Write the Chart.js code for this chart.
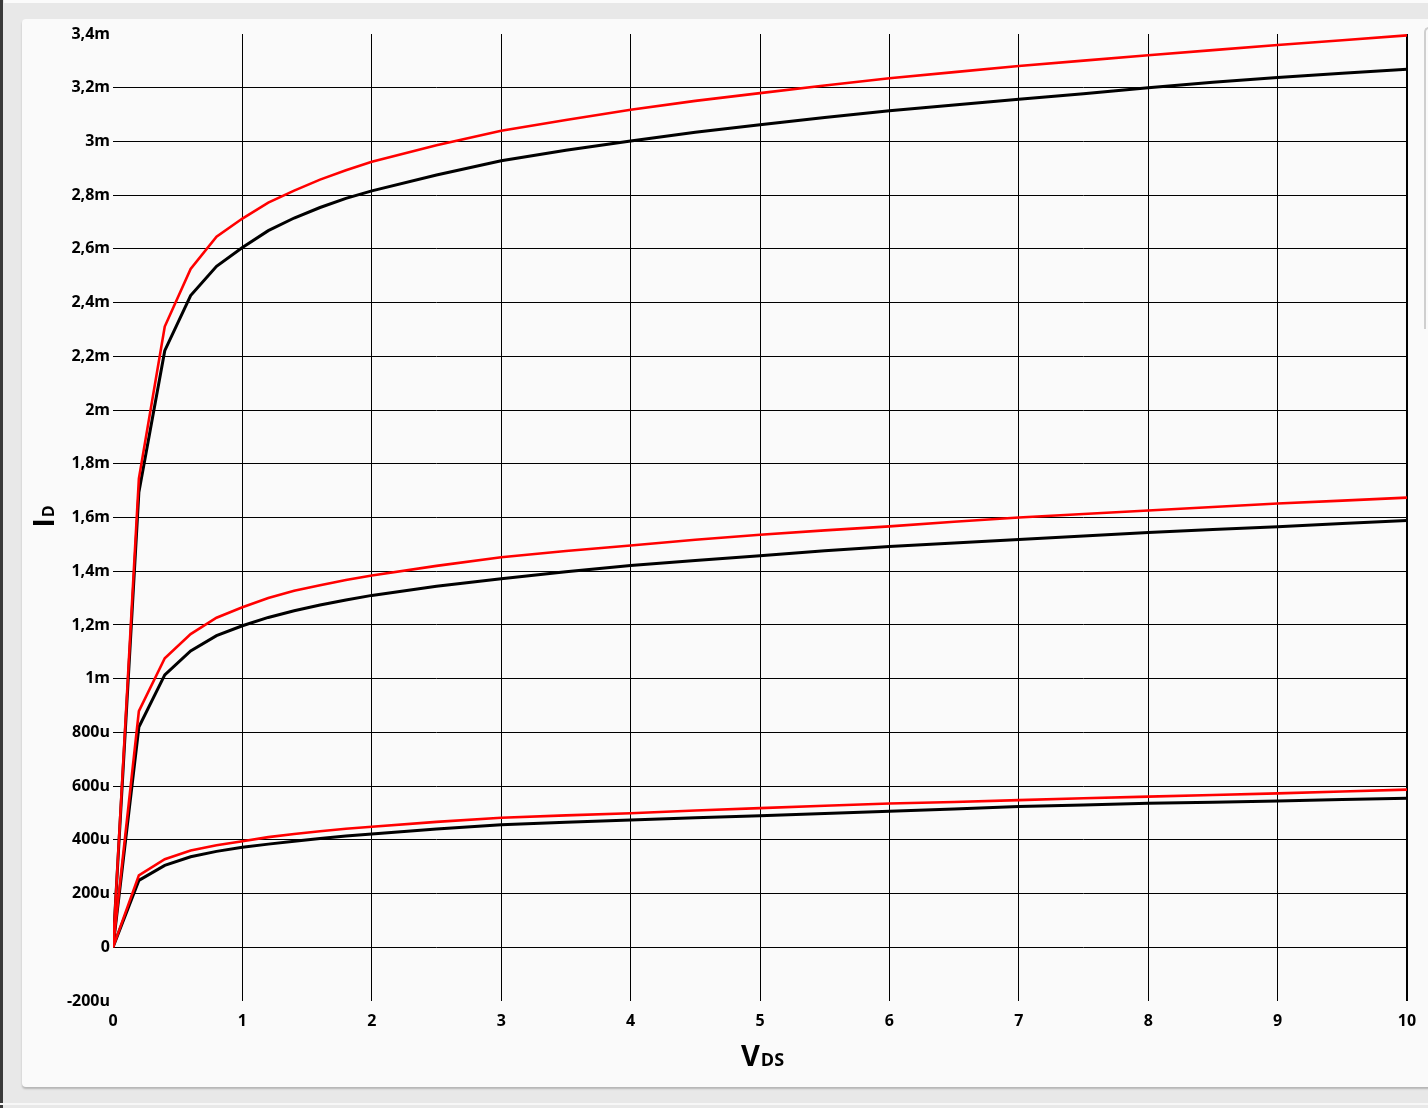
<!DOCTYPE html>
<html>
<head>
<meta charset="utf-8">
<script src="https://cdn.jsdelivr.net/npm/chart.js@4/dist/chart.umd.min.js"></script>
<style>
  html, body { margin:0; padding:0; width:1428px; height:1108px; overflow:hidden; background:#e8e8e8; }
  #topline { position:absolute; left:4px; top:0; width:1424px; height:3px; background:#fbfbfb; }
  #leftedge { position:absolute; left:0; top:0; width:3px; height:1108px; background:#3a3a3a; }
  #panel { position:absolute; left:22px; top:19px; width:1440px; height:1068px; background:#fafafa;
           border-radius:4px; box-shadow:0 2px 2px rgba(0,0,0,0.22); }
  #rightbar { position:absolute; left:1424px; top:27px; width:20px; height:300px; background:#fafafa;
              border-left:2px solid #cfcfcf; border-top:2px solid #cfcfcf; border-radius:5px 0 0 0; }
  #bottomline { position:absolute; left:0; top:1103px; width:1428px; height:2px; background:#f7f7f7; }
  canvas { position:absolute; left:0; top:0; }
</style>
</head>
<body>
<div id="topline"></div>
<div id="leftedge"></div>
<div id="panel"></div>
<div id="rightbar"></div>
<div id="bottomline"></div>
<canvas id="c" width="1428" height="1108"></canvas>
<script>
// V_DS sample points (V)
const vds = [0,0.2,0.4,0.6,0.8,1.0,1.2,1.4,1.6,1.8,2.0,2.5,3.0,3.5,4.0,4.5,5.0,5.5,6.0,6.5,7.0,7.5,8.0,8.5,9.0,9.5,10];

// I_D values in mA
const topBlack = [0,1.694,2.221,2.426,2.535,2.605,2.668,2.715,2.754,2.788,2.816,2.875,2.928,2.967,3.002,3.034,3.062,3.089,3.114,3.136,3.157,3.178,3.200,3.220,3.238,3.254,3.269];
const topRed   = [0,1.745,2.311,2.525,2.645,2.713,2.772,2.817,2.858,2.893,2.924,2.986,3.040,3.080,3.118,3.151,3.180,3.208,3.235,3.258,3.281,3.301,3.321,3.340,3.359,3.377,3.395];
const midBlack = [0,0.820,1.014,1.103,1.160,1.197,1.228,1.253,1.274,1.293,1.310,1.344,1.372,1.398,1.421,1.440,1.458,1.476,1.492,1.505,1.518,1.531,1.544,1.555,1.566,1.578,1.589];
const midRed   = [0,0.879,1.076,1.166,1.227,1.266,1.300,1.327,1.348,1.367,1.384,1.420,1.452,1.475,1.496,1.517,1.536,1.552,1.567,1.584,1.600,1.613,1.626,1.639,1.652,1.663,1.674];
const lowBlack = [0,0.249,0.305,0.337,0.357,0.372,0.384,0.395,0.405,0.414,0.422,0.440,0.456,0.465,0.474,0.482,0.490,0.498,0.506,0.515,0.524,0.530,0.536,0.540,0.545,0.550,0.555];
const lowRed   = [0,0.268,0.328,0.360,0.380,0.395,0.410,0.422,0.432,0.441,0.449,0.467,0.482,0.491,0.499,0.509,0.518,0.527,0.535,0.541,0.548,0.555,0.561,0.567,0.573,0.580,0.587];

// axis ticks
const yTickValues = [-0.2,0,0.2,0.4,0.6,0.8,1.0,1.2,1.4,1.6,1.8,2.0,2.2,2.4,2.6,2.8,3.0,3.2,3.4];
const yTickLabels = ["-200u","0","200u","400u","600u","800u","1m","1,2m","1,4m","1,6m","1,8m","2m","2,2m","2,4m","2,6m","2,8m","3m","3,2m","3,4m"];
const xTickValues = [0,1,2,3,4,5,6,7,8,9,10];
const xTickLabels = ["0","1","2","3","4","5","6","7","8","9","10"];

const FONT = '"Open Sans", "DejaVu Sans", sans-serif';

function pts(arr) { return vds.map((v, i) => ({ x: v, y: arr[i] })); }
function ds(arr, color, w) {
  return { data: pts(arr), borderColor: color, backgroundColor: color, borderWidth: w,
           pointRadius: 0, tension: 0, fill: false };
}

const titlePlugin = {
  id: 'titles',
  afterDraw(chart) {
    const ctx = chart.ctx;
    const area = chart.chartArea;
    ctx.save();
    ctx.fillStyle = '#000';
    ctx.textBaseline = 'alphabetic';
    ctx.textAlign = 'left';
    // V_DS
    const bigX = 'bold 29px ' + FONT, smallX = 'bold 18px ' + FONT;
    ctx.font = bigX; const wV = ctx.measureText('V').width;
    ctx.font = smallX; const wDS = ctx.measureText('DS').width;
    const cx = (area.left + area.right) / 2 + 2;
    let x0 = cx - (wV + wDS) / 2;
    ctx.font = bigX; ctx.fillText('V', x0, 1066);
    ctx.font = smallX; ctx.fillText('DS', x0 + wV + 1, 1066);
    // I_D
    const bigY = 'bold 28px ' + FONT, smallY = 'bold 16px ' + FONT;
    ctx.font = bigY; const wI = ctx.measureText('I').width;
    ctx.font = smallY; const wD = ctx.measureText('D').width;
    ctx.translate(54, 516.5);
    ctx.rotate(-Math.PI / 2);
    const y0 = -(wI + wD + 1) / 2;
    ctx.font = bigY; ctx.fillText('I', y0, 0);
    ctx.font = smallY; ctx.fillText('D', y0 + wI + 1, 0);
    ctx.restore();
  }
};

new Chart(document.getElementById('c'), {
  type: 'line',
  data: {
    datasets: [
      ds(topRed, '#ff0000', 2.6),
      ds(midRed, '#ff0000', 2.6),
      ds(lowRed, '#ff0000', 2.6),
      ds(topBlack, '#000000', 3),
      ds(midBlack, '#000000', 3),
      ds(lowBlack, '#000000', 3)
    ]
  },
  options: {
    responsive: false,
    animation: false,
    devicePixelRatio: 1,
    layout: { padding: { left: 0, top: 34, right: 21, bottom: 0 } },
    plugins: { legend: { display: false }, tooltip: { enabled: false }, title: { display: false } },
    scales: {
      x: {
        type: 'linear', min: 0, max: 10,
        border: { display: false },
        grid: {
          drawTicks: false,
          color: (c) => (c.tick && c.tick.value === 0) ? 'rgba(0,0,0,0)' : '#000',
          lineWidth: (c) => (c.tick && c.tick.value === 10) ? 2 : 1
        },
        afterBuildTicks: (s) => { s.ticks = xTickValues.map(v => ({ value: v })); },
        afterFit: (s) => { s.height = 107; },
        ticks: {
          padding: 11, color: '#000', maxRotation: 0, autoSkip: false,
          font: { family: FONT, size: 16, weight: 'bold' },
          callback: (v, i) => xTickLabels[i]
        }
      },
      y: {
        type: 'linear', min: -0.2, max: 3.4,
        border: { display: false },
        grid: {
          drawTicks: false,
          color: (c) => (c.tick && (Math.abs(c.tick.value - 3.4) < 1e-6 || Math.abs(c.tick.value + 0.2) < 1e-6)) ? 'rgba(0,0,0,0)' : '#000',
          lineWidth: 1
        },
        afterBuildTicks: (s) => { s.ticks = yTickValues.map(v => ({ value: v })); },
        afterFit: (s) => { s.width = 113; },
        ticks: {
          padding: 3, color: '#000', autoSkip: false,
          font: { family: FONT, size: 16, weight: 'bold' },
          callback: (v, i) => yTickLabels[i]
        }
      }
    }
  },
  plugins: [titlePlugin]
});
</script>
</body>
</html>
